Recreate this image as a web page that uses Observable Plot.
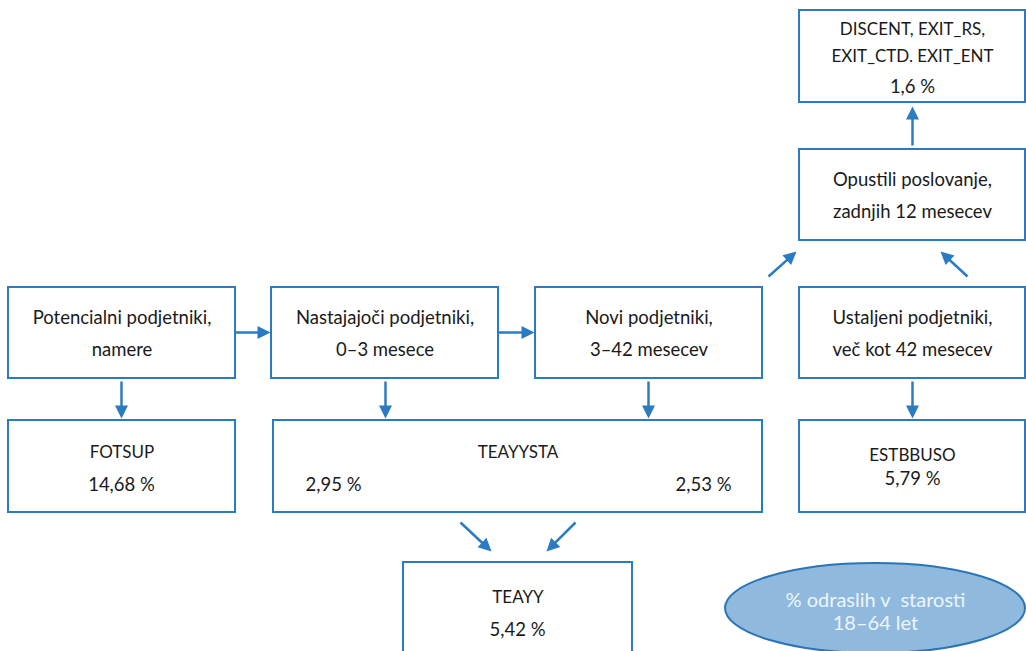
<!DOCTYPE html>
<html>
<head>
<meta charset="utf-8">
<script src="https://cdn.jsdelivr.net/npm/d3@7"></script>
<script src="https://cdn.jsdelivr.net/npm/@observablehq/plot@0.6"></script>
<style>
  html, body { margin: 0; padding: 0; background: #fff; overflow: hidden; }
  #chart { width: 1026px; height: 651px; overflow: hidden; }
</style>
</head>
<body>
<div id="chart"></div>
<script>
// ---- content ----
const stageNames = [
  ["Potencialni podjetniki,", "namere"],
  ["Nastajajoči podjetniki,", "0–3 mesece"],
  ["Novi podjetniki,", "3–42 mesecev"],
  ["Ustaljeni podjetniki,", "več kot 42 mesecev"],
  ["Opustili poslovanje,", "zadnjih 12 mesecev"]
];
const indicatorNames = [["FOTSUP"], ["TEAYYSTA"], ["ESTBBUSO"], ["TEAYY"], ["DISCENT, EXIT_RS,", "EXIT_CTD. EXIT_ENT"]];
const indicatorRates = [[14.68], [2.95, 2.53], [5.79], [5.42], [1.6]];
const legendLines = ["% odraslih v  starosti", "18–64 let"];

// ---- layout (pixel-space diagram) ----
const stageBoxes = [[8, 235, 287, 378], [271, 498, 287, 378], [535, 762, 287, 378], [799, 1025, 287, 378], [799, 1025, 149, 240]];
const indicatorBoxes = [[8, 235, 420, 512], [273, 762, 420, 512], [799, 1025, 420, 512], [403, 632, 562, 670], [799, 1025, 10, 102]];
const indicatorNameY = [[452], [452], [455], [597], [29, 56]];
const indicatorRateY = [485, 485, 479, 630, 87];
const indicatorRateX = [[121], [333, 703], [912], [517], [912]];
const arrowSegments = [
  [235, 332, 270, 332], [498, 332, 534, 332],
  [121, 381, 121, 418], [385, 381, 385, 418], [648, 381, 648, 418], [912, 381, 912, 418],
  [912, 145, 912, 106],
  [768, 276, 796, 251], [967, 276, 940, 251],
  [460, 522, 491, 551], [575, 522, 546, 551]
];
const ellipseShape = {cx: 875, cy: 608, rx: 150, ry: 45};

const blue = "#2b7bc2";
const fmt = v => String(v).replace(".", ",") + " %";

const boxes = [...stageBoxes, ...indicatorBoxes].map(([x1, x2, y1, y2]) => ({x1, x2, y1, y2}));

const texts = [];
stageNames.forEach((lines, i) => {
  const [x1, x2, y1] = stageBoxes[i];
  lines.forEach((t, j) => texts.push({text: t, x: (x1 + x2) / 2, y: y1 + 31 + j * 32, size: 18.5}));
});
indicatorNames.forEach((lines, i) => {
  const [x1, x2] = indicatorBoxes[i];
  lines.forEach((t, j) => texts.push({text: t, x: (x1 + x2) / 2, y: indicatorNameY[i][j], size: 17}));
  indicatorRates[i].forEach((v, j) => texts.push({text: fmt(v), x: indicatorRateX[i][j], y: indicatorRateY[i], size: 18.5}));
});

const HEAD = 13;
const arrows = arrowSegments.map(([x1, y1, x2, y2]) => {
  const dx = x2 - x1, dy = y2 - y1, L = Math.hypot(dx, dy);
  const ux = dx / L, uy = dy / L;
  return {x1, y1, x2, y2, bx: x2 - ux * (HEAD - 2), by: y2 - uy * (HEAD - 2),
          angle: Math.atan2(dx, -dy) * 180 / Math.PI};
});
const headShape = {
  draw(ctx, l) { ctx.moveTo(0, -l); ctx.lineTo(-6.5, 0); ctx.lineTo(6.5, 0); ctx.closePath(); }
};

function ellipseMark(index, scales) {
  const ns = "http://www.w3.org/2000/svg";
  const g = document.createElementNS(ns, "g");
  const e = document.createElementNS(ns, "ellipse");
  const cx = scales.x(ellipseShape.cx), cy = scales.y(ellipseShape.cy);
  e.setAttribute("cx", cx);
  e.setAttribute("cy", cy);
  e.setAttribute("rx", scales.x(ellipseShape.cx + ellipseShape.rx) - cx);
  e.setAttribute("ry", scales.y(ellipseShape.cy + ellipseShape.ry) - cy);
  e.setAttribute("fill", "#8fbade");
  e.setAttribute("stroke", "#2a74b8");
  e.setAttribute("stroke-width", 2);
  g.appendChild(e);
  return g;
}

const legendTexts = legendLines.map((t, j) => ({text: t, x: ellipseShape.cx, y: 600 + j * 23}));

const plot = Plot.plot({
  width: 1026,
  height: 651,
  margin: 0,
  x: {domain: [0, 1026], range: [0, 1026], axis: null},
  y: {domain: [0, 651], range: [0, 651], axis: null},
  style: {fontFamily: "Lato, 'Open Sans', sans-serif", fontSize: "17px", background: "#fff"},
  marks: [
    Plot.rect(boxes, {x1: "x1", x2: "x2", y1: "y1", y2: "y2", fill: "white", stroke: blue, strokeWidth: 2}),
    ellipseMark,
    Plot.link(arrows, {x1: "x1", y1: "y1", x2: "bx", y2: "by", stroke: blue, strokeWidth: 2.5}),
    Plot.vector(arrows, {x: "x2", y: "y2", rotate: "angle", length: HEAD, anchor: "end", shape: headShape, fill: blue, stroke: "none"}),
    Plot.text(texts.filter(d => d.size === 17), {x: "x", y: "y", text: "text", fill: "#1a1a1a", fontSize: 17}),
    Plot.text(texts.filter(d => d.size !== 17), {x: "x", y: "y", text: "text", fill: "#1a1a1a", fontSize: 18.5}),
    Plot.text(legendTexts, {x: "x", y: "y", text: "text", fill: "#eef4fb", fontSize: 20})
  ]
});
document.getElementById("chart").appendChild(plot);
</script>
</body>
</html>
